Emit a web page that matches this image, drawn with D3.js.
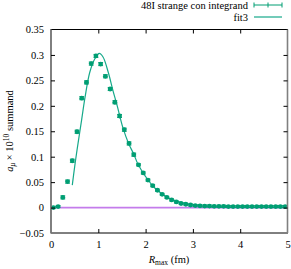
<!DOCTYPE html>
<html><head><meta charset="utf-8">
<script src="https://cdn.jsdelivr.net/npm/d3@7"></script>
<style>body{margin:0;background:#fff;font-family:"Times New Roman",Times,"Liberation Serif",serif}svg{display:block}</style>
</head><body><svg id="c" width="291" height="269"></svg>
<script>
const rmax = [0.05,0.15,0.25,0.35,0.45,0.55,0.65,0.75,0.85,0.95,1.05,1.15,1.25,1.35,1.45,1.55,1.65,1.75,1.85,1.95,2.05,2.15,2.25,2.35,2.45,2.55,2.65,2.75,2.85,2.95,3.05,3.15,3.25,3.35,3.45,3.55,3.65,3.75,3.85,3.95,4.05,4.15,4.25,4.35,4.45,4.55,4.65,4.75,4.85,4.95];
const summand = [0.000,0.002,0.020,0.051,0.092,0.149,0.215,0.246,0.283,0.298,0.282,0.258,0.233,0.207,0.180,0.153,0.126,0.104,0.084,0.068,0.054,0.043,0.034,0.026,0.020,0.015,0.011,0.008,0.0065,0.005,0.004,0.0035,0.003,0.003,0.0025,0.0025,0.0025,0.002,0.002,0.002,0.002,0.002,0.002,0.002,0.002,0.002,0.002,0.002,0.002,0.002];
const errs = [0.002,0.002,0.003,0.003,0.003,0.003,0.003,0.003,0.003,0.003,0.003,0.003,0.003,0.003,0.003,0.003,0.003,0.003,0.002,0.002,0.002,0.002,0.002,0.002,0.002,0.002,0.002,0.002,0.002,0.002,0.002,0.002,0.002,0.002,0.002,0.002,0.002,0.002,0.002,0.002,0.002,0.002,0.002,0.002,0.002,0.002,0.002,0.002,0.002,0.002];
const fitX = [0.45,0.5,0.55,0.65,0.72,0.82,0.93,1.02,1.1,1.21,1.31,1.4,1.52,1.64,1.75,1.84,2.0,2.2,2.5,3.0,3.5,4.0,5.0];
const fitY = [0.044,0.08,0.113,0.174,0.217,0.266,0.293,0.303,0.296,0.266,0.23,0.2,0.157,0.126,0.105,0.085,0.061,0.038,0.018,0.005,0.0015,0.0005,0.0];
const xTicks = [0,1,2,3,4,5];
const yTicks = [-0.05,0,0.05,0.1,0.15,0.2,0.25,0.3,0.35];
const yTickLabels = ["\u22120.05","0","0.05","0.1","0.15","0.2","0.25","0.3","0.35"];

const svg = d3.select("#c");
const L=51, R=287.5, T=29.5, B=233;
const x = d3.scaleLinear().domain([0,5]).range([L,R]);
const y = d3.scaleLinear().domain([-0.05,0.35]).range([B,T]);
const green="#009e73", fitc="#16a98a", purple="#c47ceb";
const FS=10.5, FSS=7.5, FONT='"Times New Roman", Times, "Liberation Serif", serif';

svg.append("line").attr("x1",x(0)).attr("x2",x(5)).attr("y1",y(0)).attr("y2",y(0))
  .attr("stroke",purple).attr("stroke-width",1.8);

svg.append("path").datum(fitX.map((v,i)=>[v,fitY[i]]))
  .attr("d",d3.line().x(d=>x(d[0])).y(d=>y(d[1])).curve(d3.curveCatmullRom))
  .attr("fill","none").attr("stroke",fitc).attr("stroke-width",1.2);

const g = svg.append("g");
rmax.forEach((v,i)=>{
  const cx=x(v), cy=y(summand[i]), e1=y(summand[i]+errs[i]), e2=y(summand[i]-errs[i]);
  g.append("line").attr("x1",cx).attr("x2",cx).attr("y1",e1).attr("y2",e2).attr("stroke",green).attr("stroke-width",1);
  g.append("line").attr("x1",cx-2.4).attr("x2",cx+2.4).attr("y1",e1).attr("y2",e1).attr("stroke",green).attr("stroke-width",1);
  g.append("line").attr("x1",cx-2.4).attr("x2",cx+2.4).attr("y1",e2).attr("y2",e2).attr("stroke",green).attr("stroke-width",1);
  g.append("circle").attr("cx",cx).attr("cy",cy).attr("r",2.4).attr("fill",green);
});

svg.append("rect").attr("x",L).attr("y",T).attr("width",R-L).attr("height",B-T)
  .attr("fill","none").attr("stroke","#000").attr("stroke-width",1);
svg.append("line").attr("x1",L).attr("x2",L).attr("y1",T).attr("y2",B).attr("stroke","#808080").attr("stroke-width",1.6);
svg.append("line").attr("x1",R).attr("x2",R).attr("y1",T).attr("y2",B).attr("stroke","#808080").attr("stroke-width",1.6);

const xAxB = d3.axisBottom(x).tickValues(xTicks).tickSize(-4).tickPadding(8).tickFormat(d3.format("d"));
const gx = svg.append("g").attr("transform",`translate(0,${B})`).call(xAxB);
const xAxT = d3.axisTop(x).tickValues(xTicks).tickSize(-4).tickFormat("");
const gxt = svg.append("g").attr("transform",`translate(0,${T})`).call(xAxT);
const yAxL = d3.axisLeft(y).tickValues(yTicks).tickSize(-4).tickPadding(7).tickFormat((d,i)=>yTickLabels[i]);
const gy = svg.append("g").attr("transform",`translate(${L},0)`).call(yAxL);
const yAxR = d3.axisRight(y).tickValues(yTicks).tickSize(-4).tickFormat("");
const gyr = svg.append("g").attr("transform",`translate(${R},0)`).call(yAxR);
[gx,gxt,gy,gyr].forEach(a=>{a.attr("font-size",FS); a.select(".domain").remove(); a.selectAll("line").attr("stroke","#000");
  a.selectAll("text").attr("fill","#000");});
gxt.selectAll(".tick").filter(d=>d===0||d===5).remove();
gx.selectAll(".tick line").filter(d=>d===0||d===5).remove();
gy.selectAll(".tick line").filter(d=>d===-0.05||d===0.35).remove();
gyr.selectAll(".tick").filter(d=>d===-0.05||d===0.35).remove();

const xl = svg.append("text").attr("x",169).attr("y",263).attr("text-anchor","middle").attr("font-size",FS);
xl.append("tspan").attr("font-style","italic").text("R");
xl.append("tspan").attr("font-size",FSS).attr("dy",2).text("max");
xl.append("tspan").attr("dy",-2).text(" (fm)");

const yl = svg.append("text").attr("transform","translate(13,131) rotate(-90)").attr("text-anchor","middle").attr("font-size",FS);
yl.append("tspan").attr("font-style","italic").text("a");
yl.append("tspan").attr("font-style","italic").attr("font-size",FSS).attr("dy",2).text("\u03bc");
yl.append("tspan").attr("dy",-2).text(" \u00d7 10");
yl.append("tspan").attr("font-size",FSS).attr("dy",-4).text("10");
yl.append("tspan").attr("dy",4).text(" summand");

svg.append("text").attr("x",248).attr("y",9).attr("text-anchor","end").attr("font-size",FS).text("48I strange con integrand");
svg.append("line").attr("x1",254).attr("x2",282).attr("y1",5).attr("y2",5).attr("stroke",green);
[254,268,282].forEach(p=>svg.append("line").attr("x1",p).attr("x2",p).attr("y1",2.5).attr("y2",7.5).attr("stroke",green));
svg.append("text").attr("x",248).attr("y",21).attr("text-anchor","end").attr("font-size",FS).text("fit3");
svg.append("line").attr("x1",254).attr("x2",282).attr("y1",17).attr("y2",17).attr("stroke",fitc).attr("stroke-width",1.2);
svg.selectAll("g").attr("font-family",null);
svg.selectAll("text").style("font-family",FONT);
</script></body></html>
